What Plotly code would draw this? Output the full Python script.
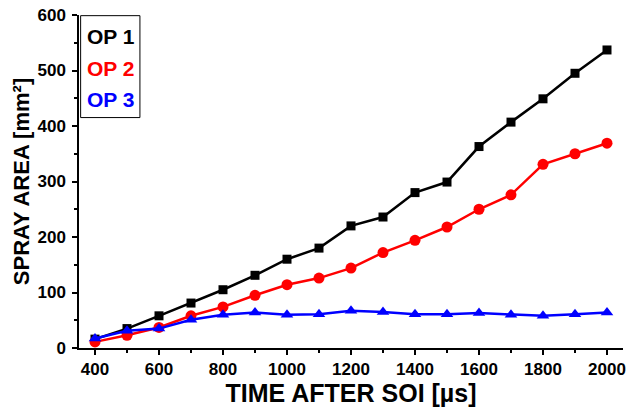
import plotly.graph_objects as go

time_us = [400, 500, 600, 700, 800, 900, 1000, 1100, 1200, 1300, 1400, 1500, 1600, 1700, 1800, 1900, 2000]
op1 = [16, 35, 58, 81, 105, 131, 160, 180, 220, 236, 280, 299, 363, 407, 449, 495, 537]
op2 = [11, 23, 37, 58, 74, 95, 114, 126, 144, 172, 194, 218, 250, 276, 331, 350, 369]
op3 = [17, 31, 35, 51, 60, 64, 60, 61, 67, 65, 61, 61, 63, 60, 58, 61, 64]

series_names = ["OP 1", "OP 2", "OP 3"]
series_values = [op1, op2, op3]
colors = ["#000000", "#FF0000", "#0000FF"]
symbols = ["square", "circle", "triangle-up"]
msizes = [9, 11, 11]

x_ticks = [400, 600, 800, 1000, 1200, 1400, 1600, 1800, 2000]
y_ticks = [0, 100, 200, 300, 400, 500, 600]

FONT = "Arial, 'Liberation Sans', sans-serif"

fig = go.Figure()
for name, vals, c, s, ms in zip(series_names, series_values, colors, symbols, msizes):
    fig.add_trace(go.Scatter(
        x=time_us, y=vals, name=name, mode="lines+markers",
        line=dict(color=c, width=2.5),
        marker=dict(symbol=s, size=ms, color=c),
        showlegend=False, cliponaxis=False,
    ))

# legend box built from annotations
fig.add_shape(type="rect", xref="paper", yref="paper",
              x0=0.003, x1=0.112, y0=0.692, y1=0.998,
              line=dict(color="#000000", width=1), fillcolor="white", layer="above")
legend_y = [0.935, 0.84, 0.746]
for name, c, yy in zip(series_names, colors, legend_y):
    fig.add_annotation(xref="paper", yref="paper", x=0.011, y=yy,
                       text=name, showarrow=False, xanchor="left", yanchor="middle",
                       font=dict(family=FONT, size=21, color=c, weight="bold"))

fig.update_layout(
    width=628, height=412,
    margin=dict(l=79, r=5, t=15, b=64, autoexpand=False),
    paper_bgcolor="white", plot_bgcolor="white",
    font=dict(family=FONT, color="#000000"),
    hovermode=False,
)
fig.update_xaxes(
    range=[350, 2050], tickvals=x_ticks, ticktext=[str(v) for v in x_ticks],
    automargin=False,
    showline=True, linecolor="#000000", linewidth=1.5,
    ticks="outside", ticklen=5, tickwidth=1.5, tickcolor="#000000",
    minor=dict(dtick=100, tick0=400, ticklen=3, tickwidth=1.5, tickcolor="#000000", ticks="outside", showgrid=False),
    showgrid=False, zeroline=False,
    tickfont=dict(family=FONT, size=17, weight="bold"),
    title=dict(text="TIME AFTER SOI [µs]", font=dict(family=FONT, size=25, weight="bold"), standoff=5),
)
fig.update_yaxes(
    range=[0, 600], tickvals=y_ticks, ticktext=[str(v) for v in y_ticks],
    automargin=False,
    showline=True, linecolor="#000000", linewidth=1.5,
    ticks="outside", ticklen=5, tickwidth=1.5, tickcolor="#000000",
    minor=dict(dtick=50, tick0=0, ticklen=3, tickwidth=1.5, tickcolor="#000000", ticks="outside", showgrid=False),
    showgrid=False, zeroline=False,
    ticklabelstandoff=3,
    tickfont=dict(family=FONT, size=17, weight="bold"),
    title=dict(text="SPRAY AREA [mm²]", font=dict(family=FONT, size=22, weight="bold"), standoff=2),
)

fig.write_html("out.html", config={"displayModeBar": False},
               post_script="document.body.style.margin='0px';")
